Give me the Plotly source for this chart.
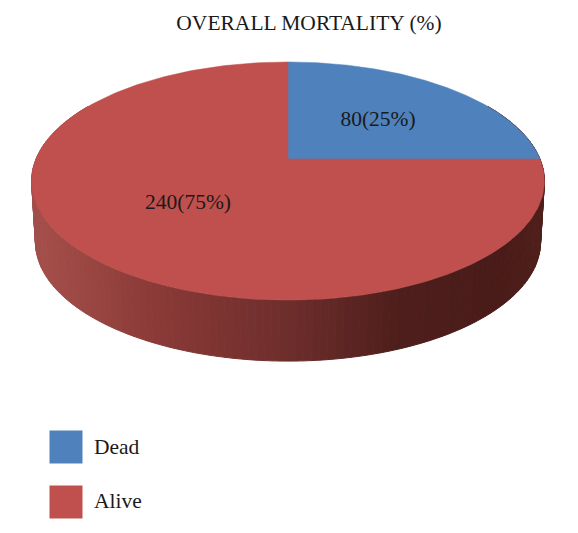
import numpy as np
import plotly.graph_objects as go

categories = ["Dead", "Alive"]
counts = [80, 240]
percent_labels = ["80(25%)", "240(75%)"]
title_text = "OVERALL MORTALITY (%)"

COLORS = ["#4f81bd", "#c0504d"]
SERIF = "Liberation Serif"
TEXT = "#1a1a1a"

# The page body has an 8px margin, so the figure fills what is left
PAGE_MARGIN = 8
W, H = 578, 533

# Pie geometry in page pixels (perspective-projected disc)
CX, CY = 288.0, 159.0
A, B, K = 252.0, 115.0, 0.185
DEPTH = 61.0
BOTTOM_SCALE = 0.985


def project(theta):
    u, v = np.sin(theta), np.cos(theta)
    w = 1 + K * v
    return CX + A * u / w, CY - B * v / w


side_stops_x = [32, 40, 150, 288, 400, 500, 545]
side_stops_r = [160, 165, 140, 110, 78, 74, 80]
side_stops_g = [80, 79, 59, 46, 31, 28, 32]
side_stops_b = [76, 75, 56, 44, 28, 25, 28]

fig = go.Figure()

# Side wall: thin strips, each shaded by its horizontal position
edges = np.radians(np.linspace(60, 300, 161))
for t0, t1 in zip(edges[:-1], edges[1:]):
    ts = np.linspace(t0, t1, 3)
    x, y = project(ts)
    xb = CX + (x - CX) * BOTTOM_SCALE
    yb = y + DEPTH
    mid = float(x.mean())
    col = "rgb(%d,%d,%d)" % (
        np.interp(mid, side_stops_x, side_stops_r),
        np.interp(mid, side_stops_x, side_stops_g),
        np.interp(mid, side_stops_x, side_stops_b),
    )
    fig.add_trace(go.Scatter(
        x=np.r_[x, xb[::-1], x[0]], y=np.r_[y, yb[::-1], y[0]],
        mode="lines", fill="toself", fillcolor=col,
        line=dict(color=col, width=1), hoverinfo="skip", showlegend=False,
    ))

# Top face wedges, clockwise from 12 o'clock, sized from the counts
fractions = np.array(counts, dtype=float) / sum(counts)
starts = np.r_[0, np.cumsum(fractions)[:-1]]
for name, start, frac, col in zip(categories, starts, fractions, COLORS):
    ts = 2 * np.pi * np.linspace(start, start + frac, 240)
    x, y = project(ts)
    fig.add_trace(go.Scatter(
        x=np.r_[CX, x, CX], y=np.r_[CY, y, CY],
        mode="lines", fill="toself", fillcolor=col,
        line=dict(color=col, width=0.5), name=name, showlegend=False,
        hoverinfo="name",
    ))

# Wedge labels
label_x = [378, 188]
label_y = [121, 204]
fig.add_trace(go.Scatter(
    x=label_x, y=label_y, mode="text", text=percent_labels,
    textfont=dict(family=SERIF, size=21.5, color=TEXT),
    textposition="middle center", hoverinfo="skip", showlegend=False,
))

# Legend
legend_x = [66, 66]
legend_y = [447, 502]
legend_text_y = [449, 503]
fig.add_trace(go.Scatter(
    x=legend_x, y=legend_y, mode="markers",
    marker=dict(symbol="square", size=33, color=COLORS, line=dict(width=0)),
    hoverinfo="skip", showlegend=False,
))
fig.add_trace(go.Scatter(
    x=[94, 94], y=legend_text_y, mode="text", text=categories,
    textfont=dict(family=SERIF, size=21.5, color=TEXT),
    textposition="middle right", hoverinfo="skip", showlegend=False,
))

fig.update_layout(
    width=W - PAGE_MARGIN, height=H - PAGE_MARGIN,
    margin=dict(l=0, r=0, t=0, b=0),
    paper_bgcolor="white", plot_bgcolor="white",
    title=dict(text=title_text, x=(309 - PAGE_MARGIN) / (W - PAGE_MARGIN), xanchor="center",
               y=1 - (22 - PAGE_MARGIN) / (H - PAGE_MARGIN), yanchor="middle",
               font=dict(family=SERIF, size=21.5, color=TEXT)),
    xaxis=dict(range=[PAGE_MARGIN, W], visible=False, fixedrange=True),
    yaxis=dict(range=[H, PAGE_MARGIN], visible=False, fixedrange=True),
    showlegend=False,
)
fig.write_html("out.html")
